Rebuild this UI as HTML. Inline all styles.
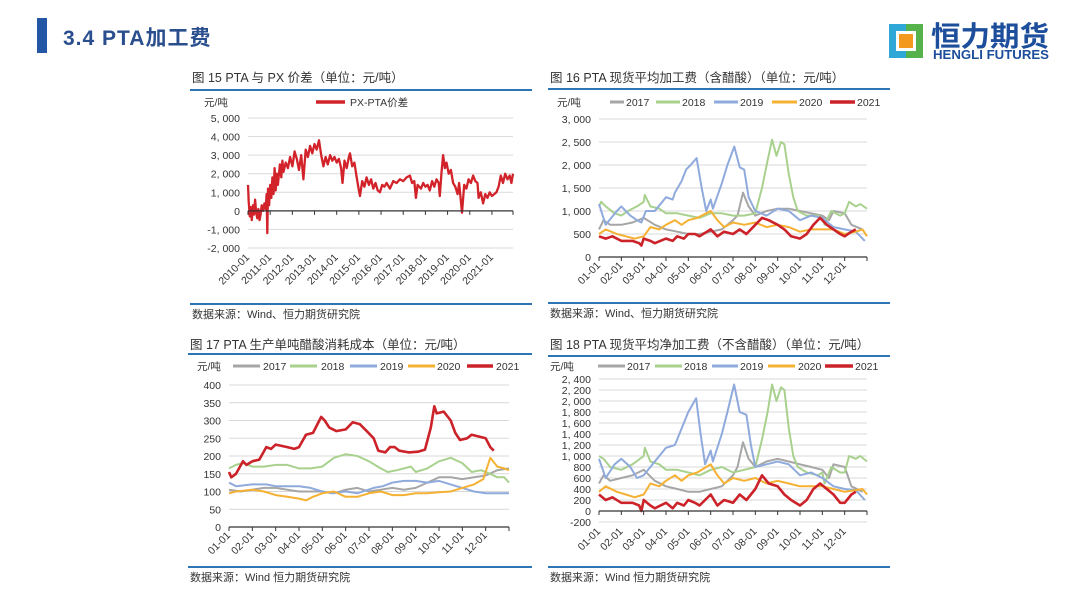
<!DOCTYPE html>
<html><head><meta charset="utf-8">
<style>
html,body{margin:0;padding:0;background:#fff;}
body{width:1080px;height:605px;overflow:hidden;position:relative;font-family:"Liberation Sans","Noto Sans CJK SC",sans-serif;}
svg{position:absolute;left:0;top:0;}
</style></head>
<body>
<svg id="s" width="1080" height="605" viewBox="0 0 1080 605" xmlns="http://www.w3.org/2000/svg" font-family="Liberation Sans, Noto Sans CJK SC, sans-serif">
  <g>
    <rect x="37" y="18" width="10" height="35" fill="#2456a6"/>
    <text x="63" y="45" font-size="21" font-weight="bold" fill="#2a4e8e" letter-spacing="1">3.4 PTA加工费</text>
  </g>
  <g>
    <rect x="889" y="24" width="34" height="34" fill="#2e6fb8"/>
    <rect x="889" y="24" width="17" height="34" fill="#2fa8d8"/>
    <rect x="906" y="24" width="17" height="34" fill="#56b24a"/>
    <rect x="896" y="31" width="20" height="20" fill="#fff"/>
    <rect x="899" y="34" width="14" height="14" fill="#f39a1e"/>
    <text x="931" y="46" font-size="28" font-weight="bold" fill="#1d4e9c" textLength="118" lengthAdjust="spacingAndGlyphs">恒力期货</text>
    <text x="933" y="59" font-size="12.5" font-weight="bold" fill="#1d4e9c" textLength="116" lengthAdjust="spacingAndGlyphs">HENGLI FUTURES</text>
  </g>
  <g id="charts"></g>
</svg>
<script>
// ---------- Chart 15 data ----------
const c1Years = [0,0.03,0.08,0.12,0.17,0.22,0.27,0.32,0.37,0.42,0.47,0.52,0.57,0.62,0.68,0.74,0.8,0.84,0.87,0.9,0.95,1.0,1.05,1.1,1.15,1.2,1.25,1.3,1.35,1.44,1.5,1.55,1.6,1.7,1.8,1.9,2.0,2.1,2.2,2.3,2.4,2.5,2.6,2.7,2.8,2.9,3.0,3.1,3.2,3.3,3.4,3.5,3.6,3.7,3.8,3.9,4.0,4.1,4.2,4.26,4.35,4.45,4.55,4.6,4.7,4.8,4.9,5.0,5.05,5.15,5.25,5.35,5.45,5.55,5.65,5.75,5.85,5.95,6.05,6.15,6.25,6.4,6.55,6.7,6.85,7.0,7.15,7.3,7.4,7.5,7.57,7.65,7.8,7.9,8.0,8.1,8.2,8.3,8.4,8.5,8.6,8.65,8.72,8.8,8.88,8.95,9.05,9.15,9.25,9.35,9.45,9.52,9.58,9.65,9.75,9.85,9.95,10.05,10.15,10.25,10.35,10.4,10.5,10.6,10.7,10.8,10.9,11.0,11.1,11.2,11.3,11.4,11.5,11.6,11.7,11.8,11.88,11.95];
const c1Values = [1400,500,-300,200,-500,300,-200,600,-100,-400,100,-500,-200,300,0,400,100,900,-1200,1200,300,1400,700,1800,900,2300,1100,2000,1400,2500,1800,2700,2100,2600,2300,2900,2400,3200,2800,2200,3000,1700,3300,2900,3500,3100,3600,3300,3800,3000,2400,2900,2500,3000,2700,2900,2600,2800,2300,1500,2700,2300,2900,3100,2400,2600,1800,1100,800,1600,1300,1800,1400,1700,1200,1500,1100,1000,1400,1300,1500,1200,1600,1500,1700,1600,1800,1900,1500,1600,700,1400,1200,1500,1300,1400,1100,1600,1300,1700,1500,800,2000,3000,2300,2600,2000,2200,1500,1300,900,1500,800,-100,1400,1200,1700,1500,1900,1600,1500,700,1000,400,900,700,1000,800,900,1000,1300,1900,1500,2000,1700,1900,1500,2000,1600,2400,1400];
const c1YTicks = [-2000,-1000,0,1000,2000,3000,4000,5000];
const c1YTickLabels = ["-2, 000","-1, 000","0","1, 000","2, 000","3, 000","4, 000","5, 000"];
const c1XTicks = [0,1,2,3,4,5,6,7,8,9,10,11];
const c1XTickLabels = ["2010-01","2011-01","2012-01","2013-01","2014-01","2015-01","2016-01","2017-01","2018-01","2019-01","2020-01","2021-01"];

// ---------- shared month axis ----------
const monthTicks = [0,1,2,3,4,5,6,7,8,9,10,11];
const monthTickLabels = ["01-01","02-01","03-01","04-01","05-01","06-01","07-01","08-01","09-01","10-01","11-01","12-01"];
const seriesNames = ["2017","2018","2019","2020","2021"];

// ---------- Chart 16 data ----------
const c2m2017 = [0,0.2,0.5,1.0,1.5,2.0,2.5,3.0,3.5,4.0,4.5,5.0,5.5,6.0,6.2,6.45,6.7,7.0,7.5,8.0,8.5,9.0,9.5,10.0,10.3,10.5,11.0,11.3,11.8];
const c2v2017 = [600,800,700,700,750,850,700,600,550,500,500,550,600,800,900,1400,1100,900,1000,1050,1050,1000,950,900,800,1000,950,700,600];
const c2m2018 = [0,0.1,0.3,0.7,1.0,1.3,1.7,2.0,2.05,2.3,2.7,3.0,3.5,4.0,4.5,5.0,5.5,6.0,6.5,7.0,7.3,7.55,7.75,7.95,8.15,8.3,8.5,8.7,8.9,9.3,9.8,10.0,10.1,10.4,10.8,11.0,11.2,11.5,11.7,12.0];
const c2v2018 = [1100,1200,1100,950,900,1000,1100,1200,1350,1100,1050,950,950,900,850,950,950,900,900,950,1500,2100,2550,2200,2500,2450,1800,1300,1000,900,900,850,700,1000,900,950,1200,1100,1150,1050];
const c2m2019 = [0,0.3,0.8,1.0,1.4,1.7,1.9,2.1,2.5,3.0,3.3,3.4,3.7,3.9,4.1,4.37,4.6,4.8,5.0,5.1,5.5,5.75,6.06,6.3,6.5,6.7,7.0,7.5,8.0,8.5,9.0,9.5,10.0,10.5,11.0,11.5,11.9];
const c2v2019 = [1150,700,1000,1100,900,800,750,1000,1000,1300,1250,1400,1650,1900,2000,2150,1500,1000,1250,1050,1600,2000,2400,1950,1900,1300,1000,900,1050,1000,800,900,850,650,600,550,350];
const c2m2020 = [0,0.3,0.8,1.2,1.6,2.0,2.3,2.7,3.0,3.4,3.7,4.0,4.4,4.8,5.0,5.3,5.6,6.0,6.5,7.0,7.5,8.0,8.5,9.0,9.5,10.0,10.5,11.0,11.5,11.8,12.0];
const c2v2020 = [500,600,500,450,400,450,650,600,700,800,700,800,850,950,1000,800,650,750,700,750,650,700,650,550,600,600,600,500,550,600,450];
const c2m2021 = [0,0.3,0.6,1.0,1.5,1.8,1.9,2.0,2.3,2.5,3.0,3.3,3.5,3.8,4.0,4.3,4.5,5.0,5.3,5.6,6.0,6.3,6.6,7.0,7.3,7.6,8.0,8.3,8.6,9.0,9.3,9.6,9.9,10.2,10.5,10.8,11.0,11.3,11.5];
const c2v2021 = [450,400,450,350,350,300,250,400,350,300,400,350,450,400,500,500,450,600,450,550,500,600,500,700,850,800,700,600,450,400,500,700,850,700,600,500,450,550,600];
const c2YTicks = [0,500,1000,1500,2000,2500,3000];
const c2YTickLabels = ["0","500","1, 000","1, 500","2, 000","2, 500","3, 000"];

// ---------- Chart 17 data ----------
const c3m2017 = [0,0.5,1.0,1.5,2.0,2.5,3.0,3.5,4.0,4.5,5.0,5.5,6.0,6.5,7.0,7.5,8.0,8.5,9.0,9.5,10.0,10.5,11.0,11.5,12.0];
const c3v2017 = [105,100,105,110,110,105,100,100,100,95,105,110,100,105,110,105,110,125,140,140,135,140,145,160,165];
const c3m2018 = [0,0.3,0.6,1.0,1.5,2.0,2.5,3.0,3.5,4.0,4.5,5.0,5.5,6.0,6.5,6.8,7.2,7.8,8.0,8.5,9.0,9.5,10.0,10.4,10.8,11.2,11.5,11.8,12.0];
const c3v2018 = [165,175,180,170,170,175,175,165,165,170,195,205,200,185,165,155,160,170,155,165,185,195,180,155,160,150,140,140,125];
const c3m2019 = [0,0.3,1.0,1.6,2.0,2.5,3.0,3.5,4.0,4.4,5.0,5.5,6.2,6.6,7.0,7.5,8.0,8.5,9.0,9.5,10.0,10.5,11.0,12.0];
const c3v2019 = [125,115,120,120,115,115,115,110,100,95,100,95,110,115,125,130,130,125,130,120,110,100,95,95];
const c3m2020 = [0,0.3,1.0,1.5,2.0,2.5,3.0,3.3,3.6,4.0,4.5,5.0,5.5,6.0,6.5,7.0,7.5,8.0,8.5,9.0,9.5,10.0,10.5,10.9,11.2,11.5,11.8,12.0];
const c3v2020 = [95,100,105,100,90,85,80,75,85,95,100,85,85,95,100,90,90,95,95,98,100,110,120,135,195,170,165,160];
const c3m2021 = [0,0.1,0.3,0.6,0.75,1.0,1.3,1.6,1.8,2.0,2.5,2.8,3.0,3.3,3.6,3.95,4.1,4.3,4.6,5.0,5.3,5.6,5.9,6.2,6.4,6.7,6.9,7.1,7.3,7.7,8.1,8.4,8.65,8.8,8.9,9.2,9.5,9.7,9.9,10.2,10.4,10.7,11.0,11.2,11.35];
const c3v2021 = [155,140,150,185,175,185,190,225,220,232,225,220,225,260,265,310,300,280,270,275,295,290,270,250,215,210,225,225,215,210,212,218,280,340,320,325,300,265,245,250,260,255,250,225,215];
const c3YTicks = [0,50,100,150,200,250,300,350,400];
const c3YTickLabels = ["0","50","100","150","200","250","300","350","400"];

// ---------- Chart 18 data ----------
const c4m2017 = [0,0.2,0.5,1.0,1.5,2.0,2.5,3.0,3.5,4.0,4.5,5.0,5.5,6.0,6.2,6.45,6.7,7.0,7.5,8.0,8.5,9.0,9.5,10.0,10.3,10.5,11.0,11.3,11.8];
const c4v2017 = [500,650,550,600,650,750,550,450,400,350,350,400,450,650,800,1250,950,800,900,950,900,850,800,750,600,850,800,450,350];
const c4m2018 = [0,0.2,0.5,1.0,1.5,2.0,2.05,2.3,2.7,3.0,3.5,4.0,4.5,5.0,5.5,6.0,6.5,7.0,7.3,7.55,7.75,7.95,8.15,8.3,8.5,8.7,8.9,9.3,9.8,10.0,10.1,10.4,10.8,11.0,11.2,11.5,11.7,12.0];
const c4v2018 = [1000,950,800,750,850,1000,1150,900,850,750,750,700,650,750,800,700,750,800,1300,1800,2300,2000,2250,2200,1500,1000,800,700,650,700,500,800,700,700,1000,950,1000,900];
const c4m2019 = [0,0.3,0.7,1.0,1.4,1.7,2.0,2.5,3.0,3.4,3.7,4.0,4.35,4.55,4.75,5.0,5.1,5.5,5.75,6.05,6.3,6.6,6.8,7.0,7.5,8.0,8.5,9.0,9.5,10.0,10.5,11.0,11.5,11.9];
const c4v2019 = [950,600,850,950,800,600,650,900,1150,1200,1500,1800,2050,1400,850,1100,900,1400,1800,2300,1800,1750,1200,800,850,900,850,650,700,600,450,400,380,200];
const c4m2020 = [0,0.3,0.8,1.2,1.6,2.0,2.3,2.7,3.0,3.4,3.7,4.0,4.4,4.8,5.0,5.3,5.6,6.0,6.5,7.0,7.5,8.0,8.5,9.0,9.5,10.0,10.5,11.0,11.5,11.8,12.0];
const c4v2020 = [350,450,350,300,250,300,500,450,550,650,550,650,700,800,850,650,500,600,550,600,500,550,500,450,450,450,400,350,380,400,300];
const c4m2021 = [0,0.3,0.6,1.0,1.5,1.8,1.9,2.0,2.3,2.5,3.0,3.3,3.5,3.8,4.0,4.3,4.5,5.0,5.3,5.6,6.0,6.3,6.6,7.0,7.3,7.6,8.0,8.3,8.6,9.0,9.3,9.6,9.9,10.2,10.5,10.8,11.0,11.3,11.5];
const c4v2021 = [300,200,250,150,150,100,0,200,100,50,150,50,150,100,200,150,100,300,100,200,150,300,200,400,650,500,450,300,200,100,200,400,500,400,300,150,150,300,350];
const c4YTicks = [-200,0,200,400,600,800,1000,1200,1400,1600,1800,2000,2200,2400];
const c4YTickLabels = ["-200","0","200","400","600","800","1, 000","1, 200","1, 400","1, 600","1, 800","2, 000","2, 200","2, 400"];

const COLORS = ["#a6a6a6","#a9d18e","#8faadc","#f5b133","#cc2229"];
const NS = "http://www.w3.org/2000/svg";
const root = document.getElementById('charts');

function mk(tag, attrs, parent, txt){
  const e = document.createElementNS(NS, tag);
  for (const k in attrs) e.setAttribute(k, attrs[k]);
  if (txt !== undefined) e.textContent = txt;
  parent.appendChild(e);
  return e;
}

function drawChart(cfg){
  const g = mk('g', {}, root);
  
  
  const sx = v => cfg.px0 + (v - cfg.xmin) / (cfg.xmax - cfg.xmin) * (cfg.px1 - cfg.px0);
  const sy = v => cfg.py0 + (v - cfg.ymin) / (cfg.ymax - cfg.ymin) * (cfg.py1 - cfg.py0);

  const t = mk('text', {x: cfg.titleX, y: cfg.titleY, 'font-size': 12.5, fill: '#333'}, g, cfg.title);
  
  
  const r1 = mk('rect', {x: cfg.boxX0, y: cfg.topLineY, width: cfg.boxX1 - cfg.boxX0, height: 2, fill: '#2e75b6'}, g);
  
  
  const r2 = mk('rect', {x: cfg.boxX0, y: cfg.botLineY, width: cfg.boxX1 - cfg.boxX0, height: 2, fill: '#2e75b6'}, g);
  
  
  const src = mk('text', {x: cfg.titleX, y: cfg.botLineY + 15, 'font-size': 11, fill: '#333'}, g, cfg.source);
  
  

  const u = mk('text', {x: cfg.unitX, y: cfg.legendY + 4, 'font-size': 10.5, fill: '#333'}, g, '元/吨');
  
  

  cfg.yTicks.forEach((v, i) => {
    const y = sy(v);
    if (v !== 0) {
      const gl = mk('line', {x1: cfg.px0, x2: cfg.px1, y1: y, y2: y, stroke: '#d9d9d9', 'stroke-width': 1}, g);
      
      
    }
    const lb = mk('text', {x: cfg.px0 - 8, y: y + 4, 'font-size': 10.5, fill: '#333', 'text-anchor': 'end'}, g, cfg.yLabels[i]);
    
    
  });

  cfg.series.forEach(s => {
    const d = s.x.map((xv, i) => (i ? 'L' : 'M') + sx(xv).toFixed(1) + ',' + sy(s.y[i]).toFixed(1)).join('');
    const p = mk('path', {d: d, fill: 'none', stroke: s.color, 'stroke-width': s.w, 'stroke-linejoin': 'round'}, g);
    
    
  });

  const ay = sy(0);
  const ax = mk('line', {x1: cfg.px0, x2: cfg.px1, y1: ay, y2: ay, stroke: '#333', 'stroke-width': 1.2}, g);
  
  
  const tickList = cfg.xTicks.concat([cfg.xmax]);
  tickList.forEach(v => {
    const tk = mk('line', {x1: sx(v), x2: sx(v), y1: ay, y2: ay + 4, stroke: '#333', 'stroke-width': 1}, g);
    
    
  });
  const labY = cfg.xLabelY;
  cfg.xTicks.forEach((v, i) => {
    const x = sx(v) + 2;
    const lb = mk('text', {x: x, y: labY, 'font-size': 10.5, fill: '#333', 'text-anchor': 'end', transform: 'rotate(-45 ' + x + ' ' + labY + ')'}, g, cfg.xLabels[i]);
    
    
  });

  cfg.legend.forEach(l => {
    const lg = mk('g', {}, g);
    
    
    mk('line', {x1: l.x0, x2: l.x1, y1: cfg.legendY, y2: cfg.legendY, stroke: l.color, 'stroke-width': l.w}, lg);
    mk('text', {x: l.tx, y: cfg.legendY + 4, 'font-size': 10.5, fill: '#333'}, lg, l.label);
  });
}

function yearSeries(xs, ys){
  return seriesNames.map((n, i) => ({label: n, x: xs[i], y: ys[i], color: COLORS[i], w: i === 4 ? 2.6 : 2}));
}
function yearLegend(pos){
  return seriesNames.map((n, i) => ({label: n, x0: pos[i][0], x1: pos[i][1], tx: pos[i][2], color: COLORS[i], w: i === 4 ? 3.5 : 3}));
}

drawChart({name: 'chart-px-pta-spread', title: '图 15 PTA 与 PX 价差（单位：元/吨）', titleX: 192, titleY: 82,
  boxX0: 190, boxX1: 532, topLineY: 89, botLineY: 303, source: '数据来源：Wind、恒力期货研究院',
  px0: 248, px1: 513, xmin: 0, xmax: 11.95, py0: 248, py1: 118, ymin: -2000, ymax: 5000,
  yTicks: c1YTicks, yLabels: c1YTickLabels, xTicks: c1XTicks, xLabels: c1XTickLabels, xLabelY: 258,
  unitX: 204, legendY: 102,
  series: [{label: 'px-pta', x: c1Years, y: c1Values, color: '#d2232a', w: 2.3}],
  legend: [{label: 'PX-PTA价差', x0: 316, x1: 345, tx: 350, color: '#d2232a', w: 3.5}]});

drawChart({name: 'chart-processing-fee-with-acetic', title: '图 16 PTA 现货平均加工费（含醋酸）（单位：元/吨）', titleX: 550, titleY: 82,
  boxX0: 548, boxX1: 890, topLineY: 88, botLineY: 302, source: '数据来源：Wind、恒力期货研究院',
  px0: 599, px1: 867, xmin: 0, xmax: 12, py0: 257, py1: 119, ymin: 0, ymax: 3000,
  yTicks: c2YTicks, yLabels: c2YTickLabels, xTicks: monthTicks, xLabels: monthTickLabels, xLabelY: 266,
  unitX: 557, legendY: 102,
  series: yearSeries([c2m2017, c2m2018, c2m2019, c2m2020, c2m2021], [c2v2017, c2v2018, c2v2019, c2v2020, c2v2021]),
  legend: yearLegend([[610, 624, 626], [656, 680, 682], [714, 738, 740], [772, 797, 799], [830, 855, 857]])});

drawChart({name: 'chart-acetic-acid-cost', title: '图 17 PTA 生产单吨醋酸消耗成本（单位：元/吨）', titleX: 190, titleY: 349,
  boxX0: 188, boxX1: 532, topLineY: 353, botLineY: 566, source: '数据来源：Wind 恒力期货研究院',
  px0: 229, px1: 509, xmin: 0, xmax: 12, py0: 527, py1: 385, ymin: 0, ymax: 400,
  yTicks: c3YTicks, yLabels: c3YTickLabels, xTicks: monthTicks, xLabels: monthTickLabels, xLabelY: 536,
  unitX: 197, legendY: 366,
  series: yearSeries([c3m2017, c3m2018, c3m2019, c3m2020, c3m2021], [c3v2017, c3v2018, c3v2019, c3v2020, c3v2021]),
  legend: yearLegend([[233, 260, 263], [290, 317, 321], [350, 377, 380], [408, 435, 437], [467, 493, 496]])});

drawChart({name: 'chart-net-processing-fee', title: '图 18 PTA 现货平均净加工费（不含醋酸）（单位：元/吨）', titleX: 550, titleY: 349,
  boxX0: 548, boxX1: 890, topLineY: 355, botLineY: 566, source: '数据来源：Wind 恒力期货研究院',
  px0: 599, px1: 867, xmin: 0, xmax: 12, py0: 522, py1: 379, ymin: -200, ymax: 2400,
  yTicks: c4YTicks, yLabels: c4YTickLabels, xTicks: monthTicks, xLabels: monthTickLabels, xLabelY: 532,
  unitX: 550, legendY: 366,
  series: yearSeries([c4m2017, c4m2018, c4m2019, c4m2020, c4m2021], [c4v2017, c4v2018, c4v2019, c4v2020, c4v2021]),
  legend: yearLegend([[598, 625, 627], [655, 682, 684], [712, 738, 740], [768, 795, 798], [825, 853, 855]])});
</script>
</body></html>
